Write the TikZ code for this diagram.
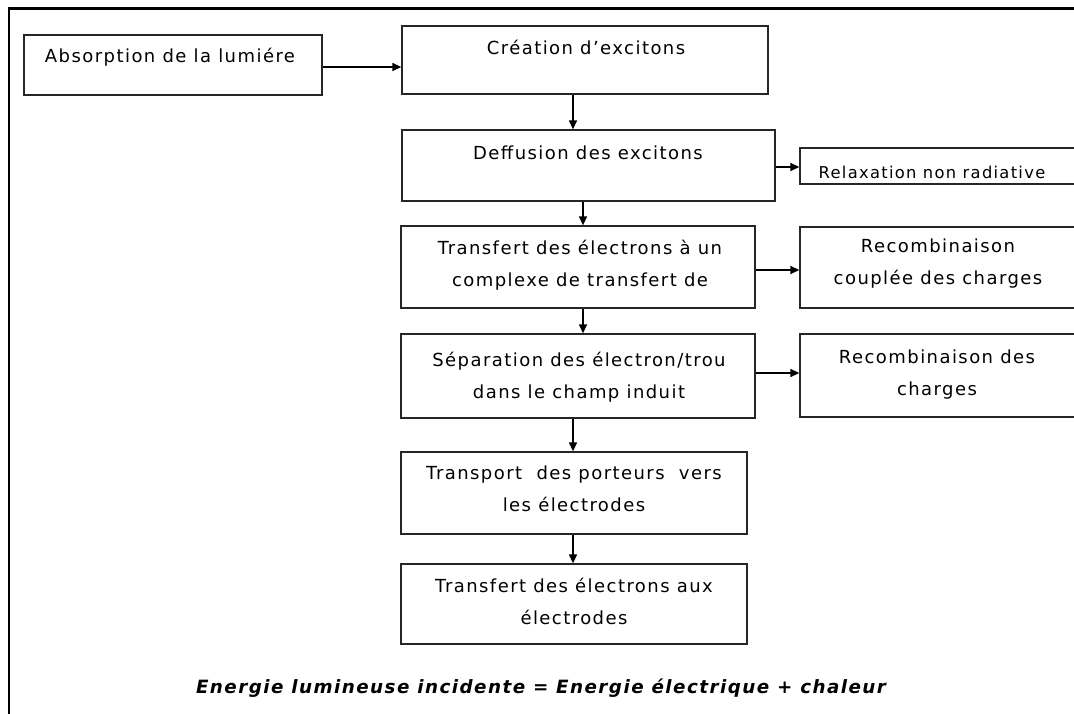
\documentclass[tikz,border=0pt]{standalone}
\usepackage{fontspec}
\setmainfont{DejaVu Sans}[LetterSpace=8]
\usetikzlibrary{arrows.meta}
\begin{document}
\begin{tikzpicture}[x=1pt,y=-1pt,
  box/.style={draw=black!85,line width=1.3pt,minimum width=#1,inner sep=0pt},
  txt/.style={font=\fontsize{18}{32}\selectfont,align=center,inner sep=0pt},
  small/.style={font=\fontsize{16.3}{28}\selectfont,align=center,inner sep=0pt},
  arr/.style={line width=1.3pt,-{Triangle[length=9pt,width=8pt]}},
  frame/.style={line width=2.2pt,black}]
\useasboundingbox (0,0) rectangle (1074,713);
\clip (0,0) rectangle (1074,713);
% outer frame
\coordinate (ftl) at (9,8.5);
\coordinate (ftr) at (1090,8.5);
\coordinate (fbl) at (9,730);
\draw[frame] (ftr) -- (ftl) -- (fbl);
% boxes
\node[box=298pt,minimum height=60pt] (abs) at (173,65) {};
\node[box=366pt,minimum height=68pt] (cre) at (585,60) {};
\node[box=373pt,minimum height=71pt] (def) at (588.5,165.5) {};
\node[box=290pt,minimum height=36pt] (rel) at (945,166) {};
\node[box=354pt,minimum height=82pt] (tr1) at (578,267) {};
\node[box=290pt,minimum height=81pt] (rc1) at (945,267.5) {};
\node[box=354pt,minimum height=84pt] (sep) at (578,376) {};
\node[box=290pt,minimum height=83pt] (rc2) at (945,375.5) {};
\node[box=346pt,minimum height=82pt] (tra) at (574,493) {};
\node[box=346pt,minimum height=80pt] (tr2) at (574,604) {};
% texts
\node[txt] (tabs) at (170,57) {Absorption de la lumiére};
\node[txt] (tcre) at (586,47) {Création d’excitons};
\node[txt] (tdef) at (588,153) {Deffusion des excitons};
\node[small] (trel) at (932,172) {Relaxation non radiative};
\node[txt] (ttr1) at (580,265.5) {Transfert des électrons à un\\complexe de transfert de};
\node[txt] (trc1) at (938,264) {Recombinaison\\couplée des charges};
\node[txt] (tsep) at (579,377) {Séparation des électron/trou\\dans le champ induit};
\node[txt] (trc2) at (937,375) {Recombinaison des\\charges};
\node[txt] (ttra) at (574,489) {Transport\ \ des porteurs\ \ vers\\les électrodes};
\node[txt] (ttr2) at (574,601.5) {Transfert des électrons aux\\électrodes};
\node[font=\fontsize{18.3}{22}\selectfont\bfseries\itshape,inner sep=0pt] (eq) at (541,688)
  {Energie lumineuse incidente = Energie électrique + chaleur};
% connectors
\draw[arr] (abs.east |- 0,67) -- (cre.west |- 0,67);
\draw[arr] (cre.south -| 573,0) -- (def.north -| 573,0);
\draw[arr] (def.east |- 0,167) -- (rel.west |- 0,167);
\draw[arr] (def.south -| 583,0) -- (tr1.north -| 583,0);
\draw[arr] (tr1.east |- 0,270) -- (rc1.west |- 0,270);
\draw[arr] (tr1.south -| 583,0) -- (sep.north -| 583,0);
\draw[arr] (sep.east |- 0,373) -- (rc2.west |- 0,373);
\draw[arr] (sep.south -| 573,0) -- (tra.north -| 573,0);
\draw[arr] (tra.south -| 573,0) -- (tr2.north -| 573,0);
\end{tikzpicture}
\end{document}
